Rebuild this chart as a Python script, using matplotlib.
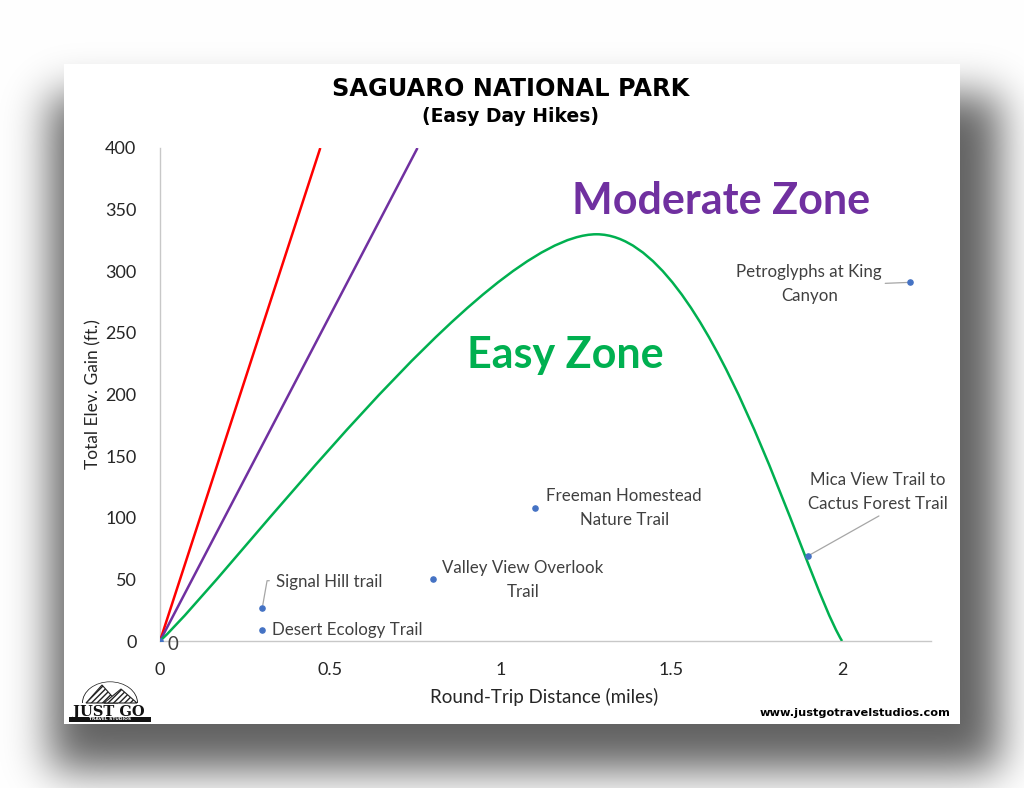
import math
import matplotlib
matplotlib.use("Agg")
import matplotlib.pyplot as plt
import numpy as np
from matplotlib.path import Path
from matplotlib.patches import PathPatch, Rectangle, Polygon, Wedge

# lines (miles, feet)
red_x = [0, 0.47]
red_y = [0, 400]
purple_x = [0, 0.755]
purple_y = [0, 400]
green_x = [0, 1.28, 2.0]
green_y = [0, 330, 0]

# hikes
hike_names = ["0", "Signal Hill trail", "Desert Ecology Trail",
              "Valley View Overlook\nTrail", "Freeman Homestead\nNature Trail",
              "Mica View Trail to\nCactus Forest Trail", "Petroglyphs at King\nCanyon"]
hike_dist = [0, 0.3, 0.3, 0.8, 1.1, 1.9, 2.2]
hike_gain = [0, 27, 9, 50, 108, 69, 291]

x_ticks = [0, 0.5, 1, 1.5, 2]
x_tick_labels = ["0", "0.5", "1", "1.5", "2"]
y_ticks = [0, 50, 100, 150, 200, 250, 300, 350, 400]

W, H = 1024, 788
fig = plt.figure(figsize=(W / 100, H / 100), dpi=100)

# drop shadow behind the white card
def soft_band(n, a, b, s):
    t = np.arange(n) + 0.5
    erf = np.frompyfunc(math.erf, 1, 1)
    return (0.5 * (erf((t - a) / s) - erf((t - b) / s))).astype(float)

sx = soft_band(W, 50, 1000, 30)
sy = soft_band(H, 95, 770, 30)
shade = np.outer(sy, sx)
gray = 1 - 0.62 * shade
bg = fig.add_axes([0, 0, 1, 1], zorder=-10)
bg.imshow(np.dstack([gray, gray, gray]), extent=(0, 1, 0, 1), aspect="auto",
          interpolation="bilinear")
bg.set_xlim(0, 1)
bg.set_ylim(0, 1)
bg.axis("off")
bg.add_patch(Rectangle((64 / W, 1 - 724 / H), 896 / W, 660 / H,
                       facecolor="white", edgecolor="none"))

# logo
lx, ly = 110 / W, 1 - 703 / H
bg.add_patch(Wedge((lx, ly), 28 / W, 0, 180, width=0.9 / W,
                   facecolor="#222222", edgecolor="none"))
bg.add_patch(Polygon([(86 / W, ly), (102 / W, 1 - 685 / H), (118 / W, ly)],
                     closed=True, facecolor="white", edgecolor="#222222",
                     hatch="//////", lw=0.8))
bg.add_patch(Polygon([(104 / W, ly), (121 / W, 1 - 689 / H), (137 / W, ly)],
                     closed=True, facecolor="white", edgecolor="#222222",
                     hatch="//////", lw=0.8))
bg.text(109 / W, 1 - 712 / H, "JUST GO", fontsize=10.5, fontweight="bold",
        family="DejaVu Serif", ha="center", va="center", color="#111111")
bg.add_patch(Rectangle((69 / W, 1 - 722 / H), 82 / W, 5 / H,
                       facecolor="#111111", edgecolor="none"))
bg.text(110 / W, 1 - 719.5 / H, "TRAVEL STUDIOS", fontsize=3.2,
        fontweight="bold", ha="center", va="center", color="white")

# titles and footer
fig.text(511 / W, 1 - 89 / H, "SAGUARO NATIONAL PARK", fontsize=17.3,
         fontweight="bold", ha="center", va="center", color="black")
fig.text(511 / W, 1 - 117 / H, "(Easy Day Hikes)", fontsize=13.5,
         fontweight="bold", ha="center", va="center", color="black")
fig.text(950 / W, 1 - 713 / H, "www.justgotravelstudios.com", fontsize=8.2,
         fontweight="bold", ha="right", va="center", color="black")

# chart
ax = fig.add_axes([160 / W, 1 - 641 / H, 770.7 / W, 493 / H])
ax.set_xlim(0, 2.26)
ax.set_ylim(0, 400)
ax.patch.set_alpha(0)


def smooth_line(xs, ys, color):
    # Excel-style smoothed line (Catmull-Rom drawn as Bezier curves)
    p = np.column_stack([xs, ys]).astype(float)
    ext = np.vstack([p[0], p, p[-1]])
    verts = [p[0]]
    codes = [Path.MOVETO]
    for i in range(1, len(ext) - 2):
        c1 = ext[i] + (ext[i + 1] - ext[i - 1]) / 6
        c2 = ext[i + 1] - (ext[i + 2] - ext[i]) / 6
        verts += [c1, c2, ext[i + 1]]
        codes += [Path.CURVE4] * 3
    ax.add_patch(PathPatch(Path(verts, codes), facecolor="none",
                           edgecolor=color, lw=1.8, zorder=3))


smooth_line(red_x, red_y, "#FF0000")
smooth_line(purple_x, purple_y, "#7030A0")
smooth_line(green_x, green_y, "#00B050")

ax.scatter(hike_dist, hike_gain, s=14, color="#4472C4", zorder=4)

label_font = dict(family="Lato", color="#404040")
label_sizes = [13.5, 12.2, 12.2, 12.2, 12.2, 12.2, 12.2]
offsets = [(7, -3, "left"), (14, 26, "left"), (10, 0, "left"),
           (90, -1, "center"), (89, 0, "center"), (70, 64, "center"),
           (-101, -2, "center")]
for i, name in enumerate(hike_names):
    dx, dy, ha = offsets[i]
    ax.annotate(name, (hike_dist[i], hike_gain[i]), xytext=(dx, dy),
                textcoords="offset pixels", ha=ha, va="center",
                multialignment="center", linespacing=1.6, zorder=5,
                fontsize=label_sizes[i], **label_font)

# leader lines for the labels that sit away from their point
leader_ends = {1: (7, 27), 5: (71, 40), 6: (-25, -1)}
for i, end in leader_ends.items():
    ax.annotate("", (hike_dist[i], hike_gain[i]), xytext=end,
                textcoords="offset pixels",
                arrowprops=dict(arrowstyle="-", color="#A6A6A6", lw=0.9,
                                shrinkA=0, shrinkB=2,
                                connectionstyle="angle,angleA=0,angleB=80,rad=0"
                                if i == 1 else "arc3"))

ax.text(1.645, 357, "Moderate Zone", family="Lato", fontweight="bold",
        fontsize=31, color="#7030A0", ha="center", va="center")
ax.text(1.19, 232, "Easy Zone", family="Lato", fontweight="bold",
        fontsize=31, color="#00B050", ha="center", va="center")

ax.set_xticks(x_ticks)
ax.set_xticklabels(x_tick_labels)
ax.set_yticks(y_ticks)
ax.tick_params(length=0, labelsize=13, labelcolor="#262626")
ax.tick_params(axis="y", pad=17)
ax.tick_params(axis="x", pad=15)
for lab in ax.get_xticklabels() + ax.get_yticklabels():
    lab.set_family("Lato")
for side in ["top", "right"]:
    ax.spines[side].set_visible(False)
for side in ["left", "bottom"]:
    ax.spines[side].set_color("#C8C8C8")
    ax.spines[side].set_linewidth(1.0)

ax.set_xlabel("Round-Trip Distance (miles)", family="Lato", fontsize=13.5,
              color="#262626")
ax.set_ylabel("Total Elev. Gain (ft.)", family="Lato", fontsize=12.5,
              color="#262626")
ax.xaxis.set_label_coords(0.498, -0.114)
ax.xaxis.label.set_verticalalignment("center")
ax.yaxis.set_label_coords(-0.087, 0.5)
ax.yaxis.label.set_verticalalignment("center")

fig.savefig("out.png", dpi=100)
